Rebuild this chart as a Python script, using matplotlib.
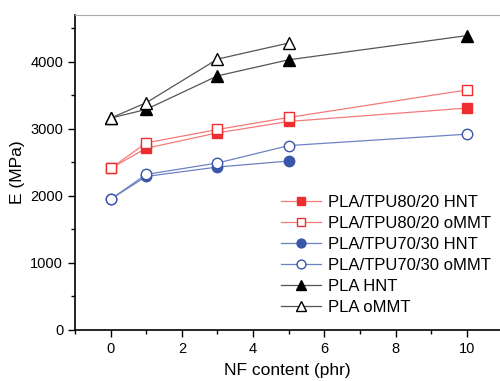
import numpy as np
import matplotlib
matplotlib.use('Agg')
import matplotlib.pyplot as plt
from matplotlib.ticker import MultipleLocator

plt.rcParams['font.family'] = ['Liberation Sans', 'DejaVu Sans']

# Data
x_full = [0, 1, 3, 5, 10]
x_short = [0, 1, 3, 5]
tpu80_hnt = [2410, 2710, 2940, 3110, 3310]
tpu80_ommt = [2410, 2790, 2990, 3170, 3580]
tpu70_hnt = [1950, 2290, 2430, 2520]
tpu70_ommt = [1950, 2320, 2490, 2750, 2920]
pla_hnt = [3160, 3290, 3790, 4030, 4390]
pla_ommt = [3160, 3390, 4040, 4280]

red = '#ee2e2e'
redline = '#f47a7a'
blue = '#3a56a8'
blueline = '#6d82c4'
black = 'black'
grayline = '#555555'

fig = plt.figure(figsize=(5.0, 3.81), dpi=100)
ax = fig.add_axes([0.15, 0.134, 0.85, 0.827])

ms = 7.5
ax.plot(x_full, tpu80_hnt, '-s', color=redline, mfc=red, mec=red, ms=ms, lw=0.9, label='PLA/TPU80/20 HNT')
ax.plot(x_full, tpu80_ommt, '-s', color=redline, mfc='white', mec=red, ms=ms, lw=0.9, label='PLA/TPU80/20 oMMT')
ax.plot(x_short, tpu70_hnt, '-o', color=blueline, mfc=blue, mec=blue, ms=ms, lw=0.9, label='PLA/TPU70/30 HNT')
ax.plot(x_full, tpu70_ommt, '-o', color=blueline, mfc='white', mec=blue, ms=ms, lw=0.9, label='PLA/TPU70/30 oMMT')
ax.plot(x_full, pla_hnt, '-^', color=grayline, mfc=black, mec=black, ms=ms + 1, lw=0.9, label='PLA HNT')
ax.plot(x_short, pla_ommt, '-^', color=grayline, mfc='white', mec=black, ms=ms + 1, lw=0.9, label='PLA oMMT')

ax.set_xlim(-1, 10.93)
ax.set_ylim(0, 4700)
ax.xaxis.set_major_locator(MultipleLocator(2))
ax.xaxis.set_minor_locator(MultipleLocator(1))
ax.yaxis.set_major_locator(MultipleLocator(1000))
ax.yaxis.set_minor_locator(MultipleLocator(500))
ax.tick_params(which='both', direction='out', labelsize=10.5, width=1)
ax.tick_params(which='major', length=5)
ax.tick_params(which='minor', length=3)

ax.spines['right'].set_visible(False)
ax.spines['top'].set_color('#aaaaaa')
ax.spines['left'].set_linewidth(1.2)
ax.spines['bottom'].set_linewidth(1.2)

ax.set_xlabel('NF content (phr)', fontsize=12.5, labelpad=5)
ax.set_ylabel('E (MPa)', fontsize=12.5)

ax.legend(loc='lower right', bbox_to_anchor=(1.014, 0.0), frameon=False, fontsize=12,
          handlelength=2.4, labelspacing=0.36, handletextpad=0.4, markerscale=0.85)

fig.savefig('out.png', dpi=100)
